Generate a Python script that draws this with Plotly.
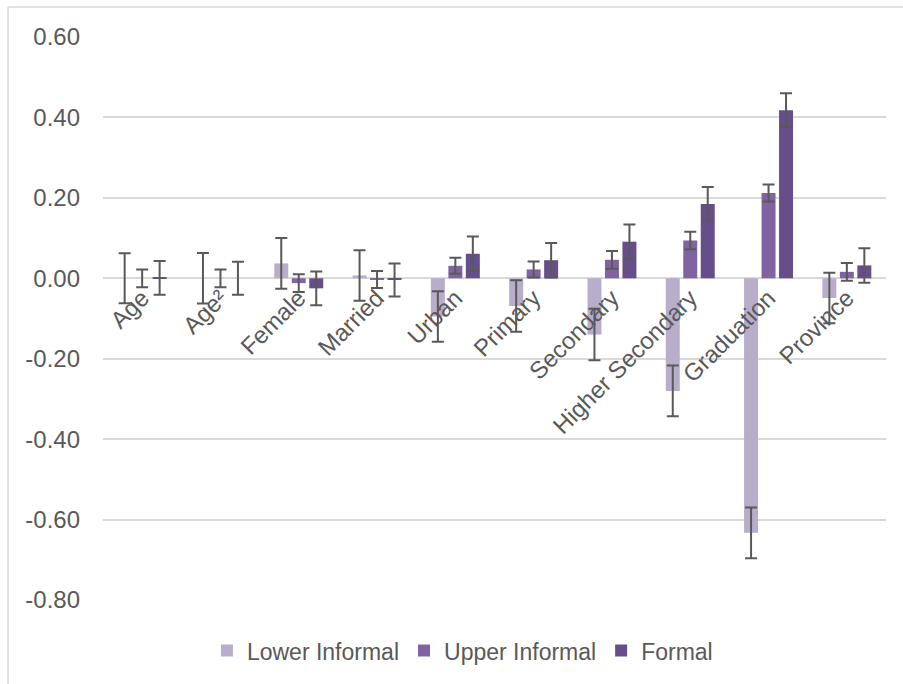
import plotly.graph_objects as go

# Regression coefficients by variable and employment sector, with error margins
categories = ["Age", "Age²", "Female", "Married", "Urban", "Primary",
              "Secondary", "Higher Secondary", "Graduation", "Province"]

lower_informal = [0.000, 0.000, 0.037, 0.007, -0.095, -0.069, -0.140, -0.280, -0.633, -0.049]
lower_err = [0.062, 0.063, 0.063, 0.063, 0.063, 0.064, 0.064, 0.063, 0.063, 0.063]

upper_informal = [0.000, 0.000, -0.012, -0.003, 0.031, 0.022, 0.046, 0.094, 0.212, 0.016]
upper_err = [0.022, 0.022, 0.022, 0.021, 0.020, 0.020, 0.022, 0.022, 0.021, 0.022]

formal = [0.001, 0.000, -0.025, -0.004, 0.061, 0.045, 0.091, 0.185, 0.418, 0.032]
formal_err = [0.042, 0.041, 0.042, 0.041, 0.043, 0.043, 0.043, 0.042, 0.042, 0.043]

y_ticks = [0.6, 0.4, 0.2, 0.0, -0.2, -0.4, -0.6, -0.8]
y_tick_labels = ["0.60", "0.40", "0.20", "0.00", "-0.20", "-0.40", "-0.60", "-0.80"]

series = [
    ("Lower Informal", lower_informal, lower_err, "#B8ADCA"),
    ("Upper Informal", upper_informal, upper_err, "#8064A2"),
    ("Formal", formal, formal_err, "#654E89"),
]

FONT = "Liberation Sans, Arial, sans-serif"
TEXT = "#595959"
GRID = "#D9D9D9"

fig = go.Figure()
for name, vals, errs, color in series:
    fig.add_trace(go.Bar(
        name=name, x=categories, y=vals,
        marker=dict(color=color, line=dict(width=0)),
        error_y=dict(type="data", array=errs, symmetric=True,
                     color="#595959", thickness=2, width=6),
    ))

y_min, y_max = -0.8, 0.6
fig.update_layout(
    width=903, height=684,
    margin=dict(l=103, r=17, t=37, b=84),
    paper_bgcolor="white", plot_bgcolor="white",
    barmode="group", bargap=0.33, bargroupgap=0.2,
    font=dict(family=FONT, size=23, color=TEXT),
    showlegend=True,
    legend=dict(orientation="h", x=0.459, xanchor="center",
                y=-0.09, yanchor="middle",
                font=dict(size=23, color=TEXT),
                itemwidth=30, traceorder="normal"),
    xaxis=dict(anchor="free", position=(0 - y_min) / (y_max - y_min),
               showline=False, showgrid=False, ticks="",
               tickangle=-45, tickfont=dict(size=24, color=TEXT)),
    yaxis=dict(range=[y_min, y_max], tickvals=y_ticks, ticktext=y_tick_labels,
               showgrid=True, gridcolor=GRID, gridwidth=1.5,
               zeroline=True, zerolinecolor=GRID, zerolinewidth=1.5,
               showline=False, ticks="", ticklabelstandoff=22,
               tickfont=dict(size=24, color=TEXT)),
)

# Chart-area border (left and top edges)
fig.add_shape(type="line", xref="paper", yref="paper",
              x0=-0.1213, x1=-0.1213, y0=-0.2, y1=1.0533,
              line=dict(color=GRID, width=1.5))
fig.add_shape(type="line", xref="paper", yref="paper",
              x0=-0.1213, x1=1.1, y0=1.0533, y1=1.0533,
              line=dict(color=GRID, width=1.5))

fig.write_html("out.html")
